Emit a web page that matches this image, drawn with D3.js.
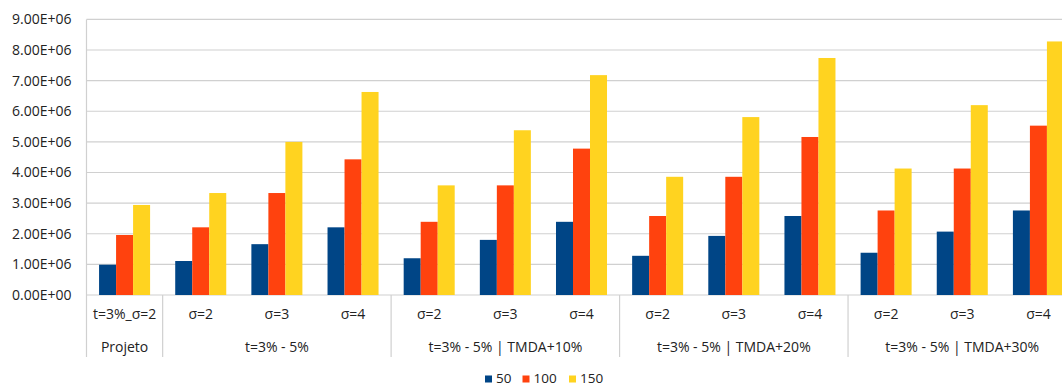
<!DOCTYPE html>
<html>
<head>
<meta charset="utf-8">
<script src="https://cdn.jsdelivr.net/npm/d3@7"></script>
<style>
  html, body { margin: 0; padding: 0; background: #fff; }
  svg { display: block; font-family: "Open Sans", sans-serif; }
</style>
</head>
<body>
<svg id="chart" width="1062" height="387"></svg>
<script>
// Scenario labels (inner level) and their grouping (outer level)
const categories = ["t=3%_σ=2", "σ=2", "σ=3", "σ=4", "σ=2", "σ=3", "σ=4",
                    "σ=2", "σ=3", "σ=4", "σ=2", "σ=3", "σ=4"];
const groups = ["Projeto", "t=3% - 5%", "t=3% - 5% | TMDA+10%",
                "t=3% - 5% | TMDA+20%", "t=3% - 5% | TMDA+30%"];
const groupSizes = [1, 3, 3, 3, 3];

const seriesNames = ["50", "100", "150"];
const values50  = [0.99e6, 1.11e6, 1.66e6, 2.21e6, 1.20e6, 1.80e6, 2.39e6,
                   1.28e6, 1.93e6, 2.58e6, 1.38e6, 2.07e6, 2.76e6];
const values100 = [1.96e6, 2.21e6, 3.33e6, 4.43e6, 2.39e6, 3.58e6, 4.78e6,
                   2.58e6, 3.86e6, 5.16e6, 2.76e6, 4.13e6, 5.53e6];
const values150 = [2.94e6, 3.33e6, 5.00e6, 6.63e6, 3.58e6, 5.38e6, 7.18e6,
                   3.86e6, 5.81e6, 7.74e6, 4.13e6, 6.20e6, 8.28e6];
const seriesColors = ["#004586", "#ff420e", "#ffd320"];

const yTicks = [0, 1e6, 2e6, 3e6, 4e6, 5e6, 6e6, 7e6, 8e6, 9e6];

const svg = d3.select("#chart");
const plotLeft = 86.5, plotRight = 1076.5, plotTop = 19.4, plotBottom = 295;

const x = d3.scaleBand()
  .domain(d3.range(categories.length))
  .range([plotLeft, plotRight])
  .paddingInner(0.33)
  .paddingOuter(0.165);

const xs = d3.scaleBand()
  .domain(d3.range(seriesNames.length))
  .range([0, x.bandwidth()]);

const y = d3.scaleLinear().domain([0, 9e6]).range([plotBottom, plotTop]);

// "9.00E+06" style labels
function sci(v) {
  if (v === 0) return "0.00E+00";
  const e = Math.floor(Math.log10(v));
  const m = v / Math.pow(10, e);
  return m.toFixed(2) + "E+" + String(e).padStart(2, "0");
}

// Horizontal gridlines
svg.append("g")
  .selectAll("line")
  .data(yTicks)
  .join("line")
  .attr("x1", plotLeft).attr("x2", plotRight)
  .attr("y1", d => y(d)).attr("y2", d => y(d))
  .attr("stroke", "#d0d0d0").attr("stroke-width", 1.2);

// Left axis with tick labels only
const yAxis = d3.axisLeft(y).tickValues(yTicks).tickFormat(sci).tickSize(0).tickPadding(15);
const yg = svg.append("g").attr("transform", `translate(${plotLeft},0)`).call(yAxis);
yg.select(".domain").remove();
yg.selectAll("text").attr("font-size", 14).attr("fill", "#222")
  .attr("font-family", "'Open Sans', sans-serif");

// Left border of the plot area
svg.append("line")
  .attr("x1", plotLeft).attr("x2", plotLeft).attr("y1", plotTop).attr("y2", 357)
  .attr("stroke", "#d0d0d0").attr("stroke-width", 1.2);

// Bars
const seriesData = [values50, values100, values150];
const barG = svg.append("g");
seriesData.forEach((vals, si) => {
  barG.append("g")
    .selectAll("rect")
    .data(vals)
    .join("rect")
    .attr("x", (d, i) => x(i) + xs(si))
    .attr("width", xs.bandwidth())
    .attr("y", d => y(d))
    .attr("height", d => y(0) - y(d))
    .attr("fill", seriesColors[si]);
});

// Inner category labels
svg.append("g")
  .selectAll("text")
  .data(categories)
  .join("text")
  .attr("x", (d, i) => x(i) + x.bandwidth() / 2)
  .attr("y", 319)
  .attr("text-anchor", "middle")
  .attr("font-size", 14)
  .attr("fill", "#222")
  .text(d => d);

// Outer group labels and separators
let start = 0;
const step = x.step();
groups.forEach((g, gi) => {
  const n = groupSizes[gi];
  const x0 = x(start) - x.paddingInner() * step / 2;
  const x1 = x(start + n - 1) + x.bandwidth() + x.paddingInner() * step / 2;
  svg.append("text")
    .attr("x", (x0 + x1) / 2)
    .attr("y", 352)
    .attr("text-anchor", "middle")
    .attr("font-size", 14)
    .attr("fill", "#222")
    .text(g);
  if (gi < groups.length - 1) {
    svg.append("line")
      .attr("x1", x1).attr("x2", x1).attr("y1", plotBottom).attr("y2", 357)
      .attr("stroke", "#d0d0d0").attr("stroke-width", 1.2);
  }
  start += n;
});

// Legend
const legendX = [485, 522.5, 569];
const lg = svg.append("g");
seriesNames.forEach((name, i) => {
  lg.append("rect")
    .attr("x", legendX[i]).attr("y", 375.5)
    .attr("width", 7).attr("height", 7)
    .attr("fill", seriesColors[i]);
  lg.append("text")
    .attr("x", legendX[i] + 11).attr("y", 383)
    .attr("font-size", 13.5)
    .attr("fill", "#222")
    .text(name);
});
</script>
</body>
</html>
